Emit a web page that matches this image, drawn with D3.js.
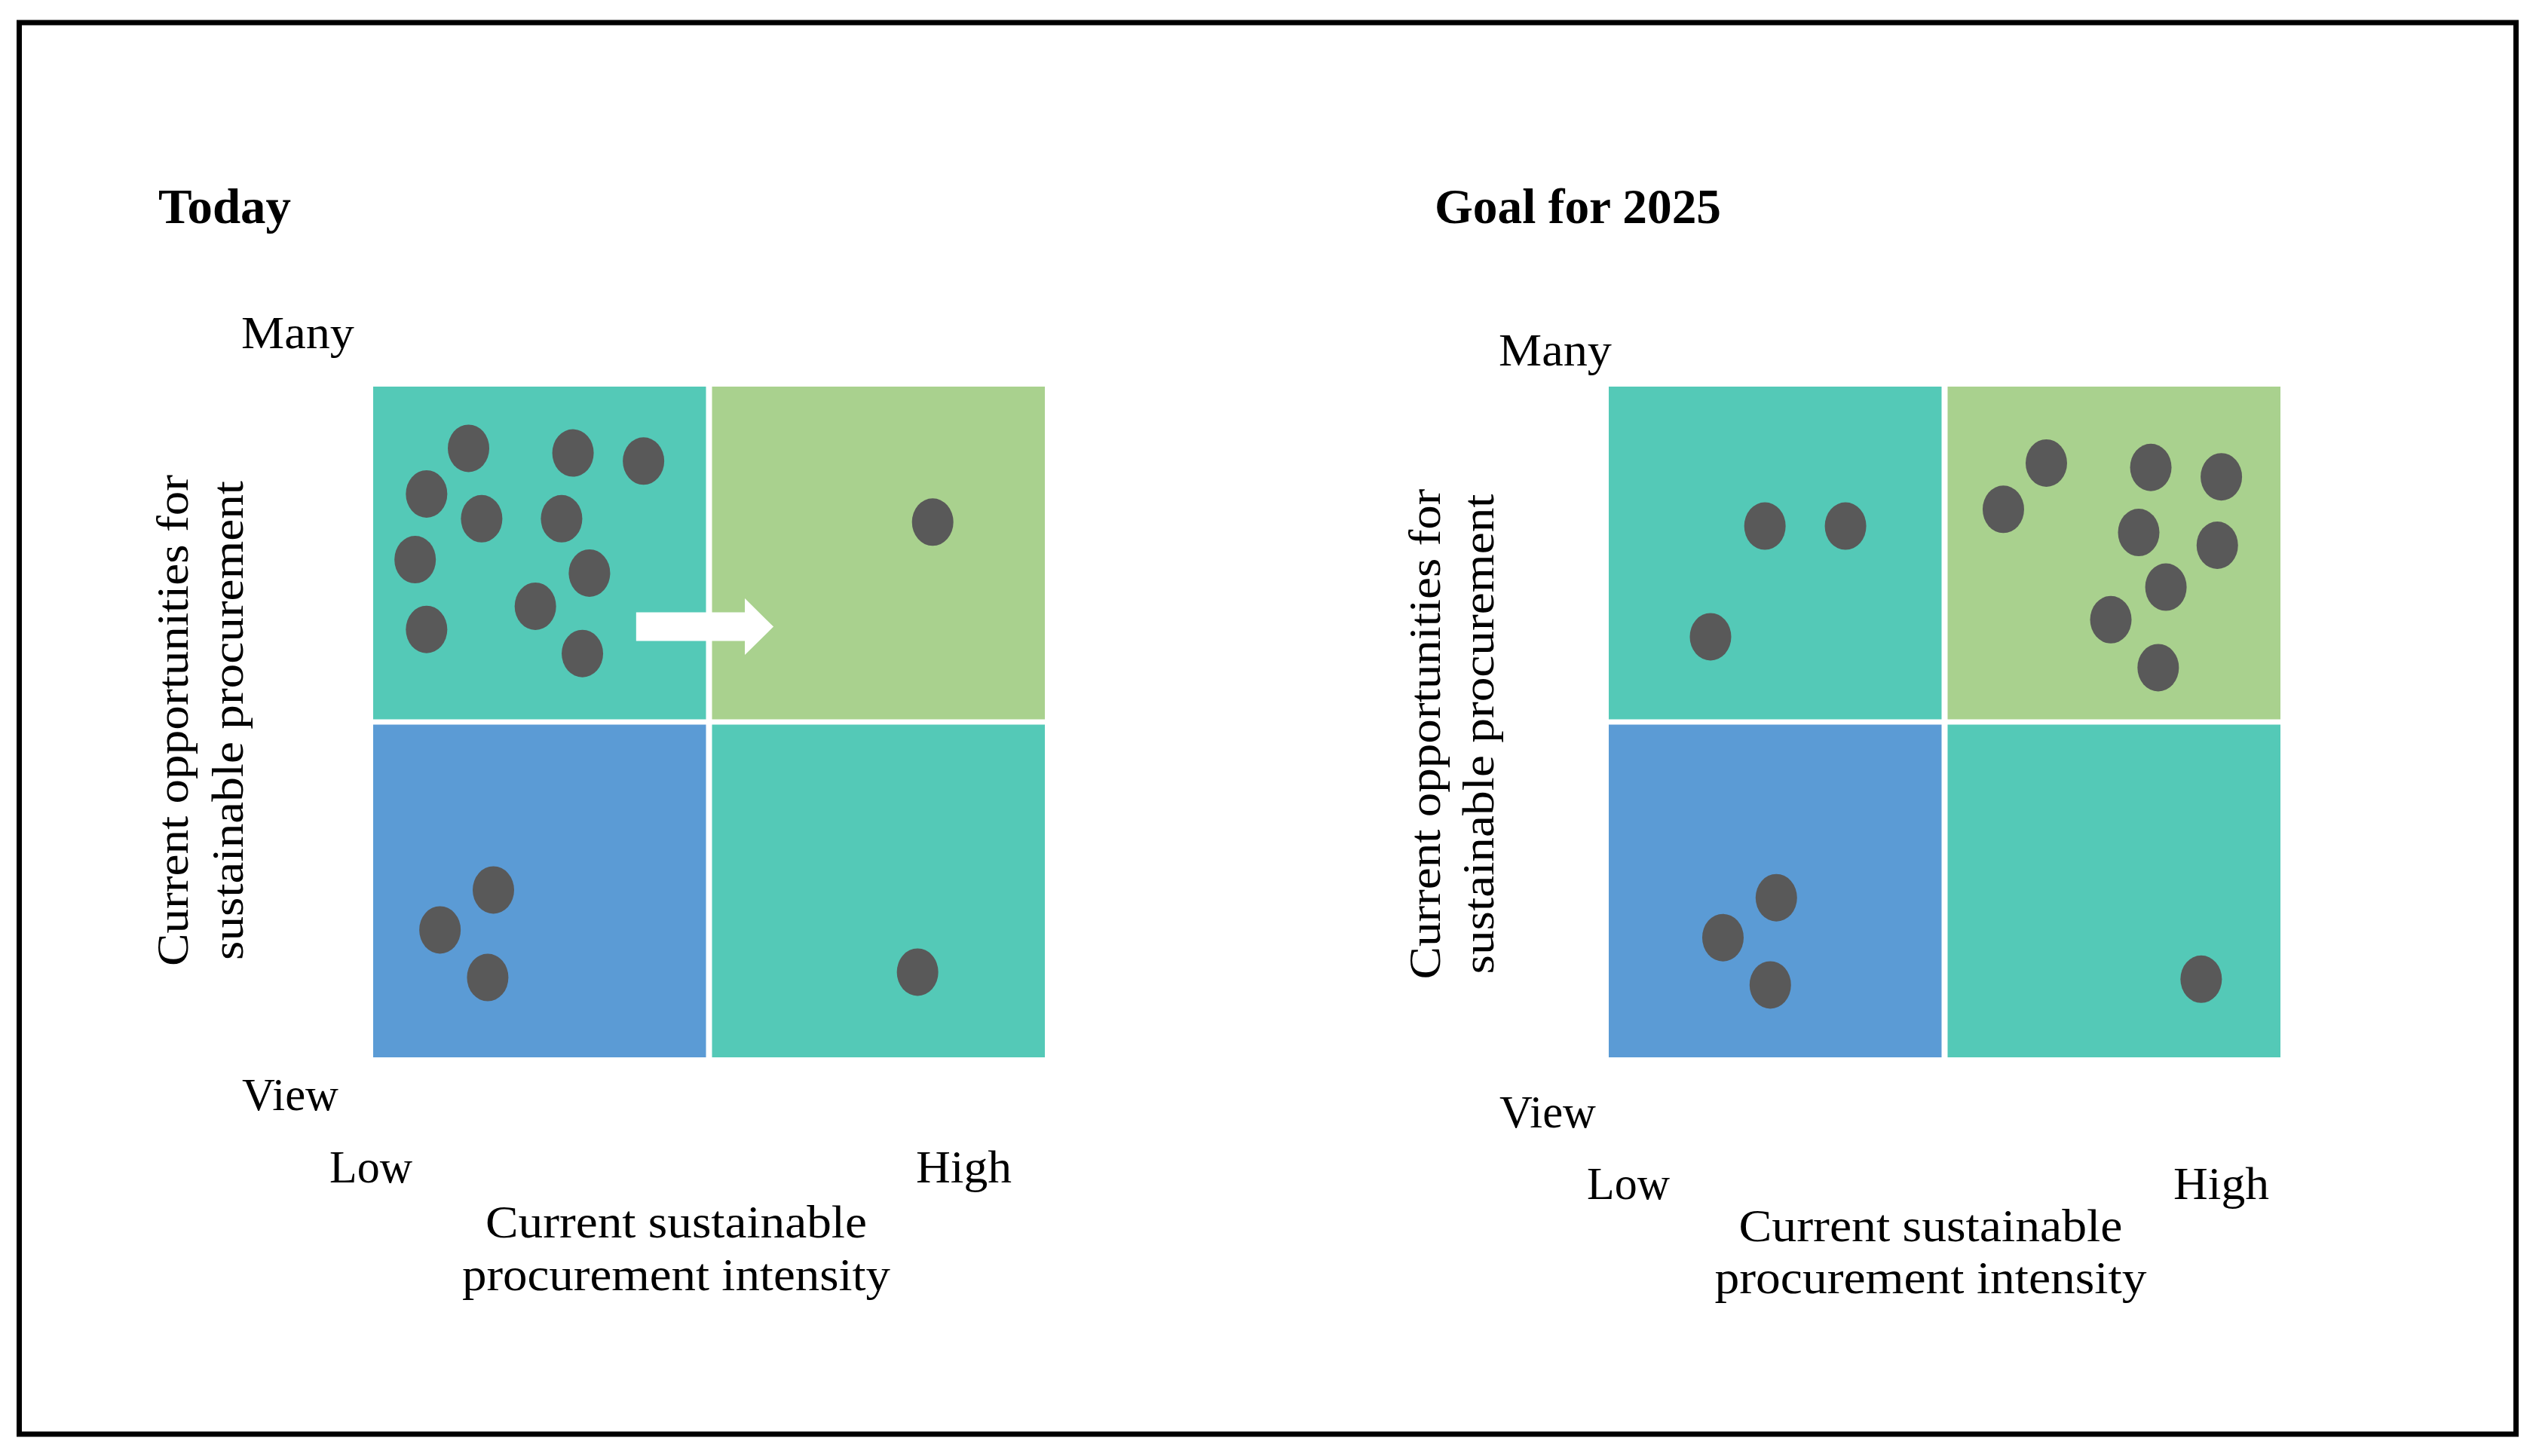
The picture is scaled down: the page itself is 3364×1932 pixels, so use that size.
<!DOCTYPE html>
<html>
<head>
<meta charset="utf-8">
<script src="https://cdn.jsdelivr.net/npm/d3@7"></script>
<style>
  body { margin: 0; background: #ffffff; }
  svg { display: block; }
</style>
</head>
<body>
<div id="chart"></div>
<script>
// quadrant names and colours
const xCategories = ["Low", "High"];
const yCategories = ["Many", "View"];
const quadrantFill = {
    "Low|Many": "#54c9b7",
    "High|Many": "#a9d18e",
    "Low|View": "#5b9bd5",
    "High|View": "#54c9b7"
};

// panel texts
const panelTitles = ["Today", "Goal for 2025"];
const yAxisLines = ["Current opportunities for", "sustainable procurement"];
const xAxisLines = ["Current sustainable", "procurement intensity"];

// dot positions, in quadrant units (0-2 on each axis, 1 = quadrant border)
const todayIntensity = [0.284, 0.595, 0.805, 0.159, 0.323, 0.561, 0.125, 0.644, 0.483, 0.159, 0.623, 1.666, 0.358, 0.199, 0.341, 1.621];
const todayOpportunity = [1.816, 1.802, 1.778, 1.680, 1.606, 1.606, 1.484, 1.444, 1.345, 1.276, 1.204, 1.596, 0.499, 0.380, 0.238, 0.254];
const goalIntensity = [0.465, 0.705, 0.303, 1.303, 1.175, 1.614, 1.824, 1.578, 1.812, 1.659, 1.495, 1.636, 0.499, 0.340, 0.481, 1.764];
const goalOpportunity = [1.584, 1.584, 1.254, 1.772, 1.634, 1.759, 1.731, 1.565, 1.527, 1.402, 1.305, 1.162, 0.476, 0.357, 0.216, 0.233];

// the move arrow in the "Today" panel
const arrowFrom = [0.783, 1.284];
const arrowTo = [1.192, 1.284];

const width = 3364, height = 1932;
const font = "'Liberation Serif', 'Times New Roman', serif";

const svg = d3.select("#chart").append("svg")
    .attr("width", width)
    .attr("height", height)
    .style("background", "#ffffff");

// outer frame
svg.append("rect")
    .attr("x", 25.5).attr("y", 30)
    .attr("width", 3312).attr("height", 1873)
    .attr("fill", "none")
    .attr("stroke", "#000000")
    .attr("stroke-width", 7);

const panels = [
    {
        title: panelTitles[0], dx: 495,
        xs: todayIntensity, ys: todayOpportunity, arrow: true,
        titlePos: [210, 296, 176],
        many: [320, 462], view: [321, 1473],
        low: [437, 1569], high: [1215, 1569],
        xTitle: [897, 1642, 1712, 506, 568],
        yTitle: [956, 249, 322, 652, 636]
    },
    {
        title: panelTitles[1], dx: 2134,
        xs: goalIntensity, ys: goalOpportunity, arrow: false,
        titlePos: [1903, 296, 380],
        many: [1988, 485], view: [1989, 1496],
        low: [2105, 1591], high: [2883, 1591],
        xTitle: [2561, 1647, 1716, 509, 573],
        yTitle: [974, 1910, 1981, 651, 637]
    }
];

function drawPanel(p) {
    const g = svg.append("g");
    const gridW = 891, top = 513, bottom = 1403;

    const xBand = d3.scaleBand().domain(xCategories).range([p.dx, p.dx + gridW]).paddingInner(0.0178);
    const yBand = d3.scaleBand().domain(yCategories).range([top, bottom]).paddingInner(0.0156);
    const x = d3.scaleLinear().domain([0, 2]).range([p.dx, p.dx + gridW]);
    const y = d3.scaleLinear().domain([0, 2]).range([bottom, top]);

    const cells = [];
    yCategories.forEach(r => xCategories.forEach(c => cells.push({ c, r })));

    g.selectAll("rect.cell")
        .data(cells)
        .enter()
        .append("rect")
        .attr("class", "cell")
        .attr("x", d => xBand(d.c))
        .attr("y", d => yBand(d.r))
        .attr("width", xBand.bandwidth())
        .attr("height", yBand.bandwidth())
        .attr("fill", d => quadrantFill[d.c + "|" + d.r]);

    g.selectAll("ellipse.dot")
        .data(p.xs.map((v, i) => ({ x: v, y: p.ys[i] })))
        .enter()
        .append("ellipse")
        .attr("class", "dot")
        .attr("cx", d => x(d.x))
        .attr("cy", d => y(d.y))
        .attr("rx", 27.5)
        .attr("ry", 31.5)
        .attr("fill", "#595959");

    if (p.arrow) {
        const x0 = x(arrowFrom[0]), x1 = x(arrowTo[0]), yc = y(arrowFrom[1]);
        const head = 38, shaft = 19, wing = 37.5;
        g.append("path")
            .attr("d", `M${x0},${yc - shaft} L${x1 - head},${yc - shaft} L${x1 - head},${yc - wing} L${x1},${yc} L${x1 - head},${yc + wing} L${x1 - head},${yc + shaft} L${x0},${yc + shaft} Z`)
            .attr("fill", "#ffffff");
    }

    // titles and end labels
    g.append("text")
        .attr("x", p.titlePos[0]).attr("y", p.titlePos[1])
        .attr("textLength", p.titlePos[2]).attr("lengthAdjust", "spacingAndGlyphs")
        .style("font-family", font).style("font-size", "66px").style("font-weight", "bold")
        .text(p.title);

    const ends = [
        ["Many", p.many, 150], ["View", p.view, 128],
        ["Low", p.low, 110], ["High", p.high, 127]
    ];
    ends.forEach(([t, pos, len]) => {
        g.append("text")
            .attr("x", pos[0]).attr("y", pos[1])
            .attr("textLength", len).attr("lengthAdjust", "spacingAndGlyphs")
            .style("font-family", font).style("font-size", "61px")
            .text(t);
    });

    // x axis title
    xAxisLines.forEach((t, i) => {
        g.append("text")
            .attr("x", p.xTitle[0]).attr("y", p.xTitle[1 + i])
            .attr("text-anchor", "middle")
            .attr("textLength", p.xTitle[3 + i]).attr("lengthAdjust", "spacingAndGlyphs")
            .style("font-family", font).style("font-size", "61px")
            .text(t);
    });

    // y axis title (rotated)
    yAxisLines.forEach((t, i) => {
        g.append("text")
            .attr("transform", `translate(${p.yTitle[1 + i]},${p.yTitle[0]}) rotate(-90)`)
            .attr("text-anchor", "middle")
            .attr("textLength", p.yTitle[3 + i]).attr("lengthAdjust", "spacingAndGlyphs")
            .style("font-family", font).style("font-size", "59px")
            .text(t);
    });
}

panels.forEach(drawPanel);
</script>
</body>
</html>
